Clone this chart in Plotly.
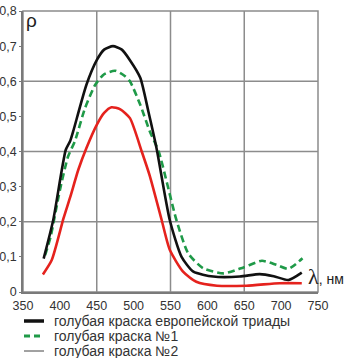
import plotly.graph_objects as go

# Spectral reflectance curves (wavelength in nm, reflectance rho)
euro_wl = [378, 391, 408, 414, 418, 436, 450, 460, 472, 484, 495, 509, 520, 531, 549, 565, 581, 608, 644, 671, 690, 710, 728]
euro_rho = [0.095, 0.205, 0.405, 0.43, 0.457, 0.59, 0.66, 0.69, 0.70, 0.69, 0.66, 0.61, 0.514, 0.41, 0.205, 0.10, 0.058, 0.044, 0.044, 0.051, 0.045, 0.034, 0.055]

paint1_wl = [380, 387.5, 400, 411, 420.5, 434, 448, 460, 475, 488, 495, 509, 522, 534, 558, 574, 594, 622, 649, 674, 694, 710, 729]
paint1_rho = [0.105, 0.158, 0.29, 0.385, 0.43, 0.523, 0.59, 0.62, 0.63, 0.615, 0.60, 0.533, 0.457, 0.40, 0.205, 0.11, 0.068, 0.053, 0.07, 0.089, 0.077, 0.066, 0.096]

paint2_wl = [377, 389, 405, 414, 425, 436, 450, 460, 470, 482, 495, 511, 522, 538, 549, 567, 585, 613, 653, 698, 728]
paint2_rho = [0.05, 0.091, 0.21, 0.27, 0.348, 0.41, 0.476, 0.51, 0.526, 0.52, 0.495, 0.40, 0.33, 0.205, 0.12, 0.058, 0.029, 0.018, 0.018, 0.025, 0.025]

series_names = ["голубая краска европейской триады", "голубая краска №1", "голубая краска №2"]

x_ticks = [350, 400, 450, 500, 550, 600, 650, 700, 750]
y_ticks = [0, 0.1, 0.2, 0.3, 0.4, 0.5, 0.6, 0.7, 0.8]
y_tick_text = ["0", "0,1", "0,2", "0,3", "0,4", "0,5", "0,6", "0,7", "0,8"]

# grid is coarser than the labels
x_grid = [450, 550, 650]
y_grid = [0.2, 0.4, 0.6]

FONT = "Liberation Sans, Arial, sans-serif"
GRID = "#8c8c8c"
BLACK = "#111111"
GREEN = "#1f9a48"
RED = "#e5221d"

fig = go.Figure()

fig.add_trace(go.Scatter(x=paint2_wl, y=paint2_rho, mode="lines", name=series_names[2],
                         line=dict(color=RED, width=2.6, shape="spline", smoothing=0.6), showlegend=False))
fig.add_trace(go.Scatter(x=paint1_wl, y=paint1_rho, mode="lines", name=series_names[1],
                         line=dict(color=GREEN, width=2.6, dash="7px,4px", shape="spline", smoothing=0.6), showlegend=False))
fig.add_trace(go.Scatter(x=euro_wl, y=euro_rho, mode="lines", name=series_names[0],
                         line=dict(color=BLACK, width=2.6, shape="spline", smoothing=0.6), showlegend=False))

fig.update_layout(
    width=350, height=358,
    margin=dict(l=23, r=32, t=11, b=66),
    paper_bgcolor="white", plot_bgcolor="white",
    font=dict(family=FONT, size=12, color="#333333"),
    xaxis=dict(range=[350, 750], tickvals=x_ticks, showgrid=False, zeroline=False, automargin=False,
               showline=True, linecolor="#7a7a7a", linewidth=1.5, ticks="", ticklabelstandoff=1,
               tickfont=dict(size=12.5, color="#333333")),
    yaxis=dict(range=[0, 0.8], tickvals=y_ticks, ticktext=y_tick_text, showgrid=False, zeroline=False,
               automargin=False, showline=True, linecolor="#7a7a7a", linewidth=1.5, ticks="outside",
               ticklen=2, tickcolor="#7a7a7a", tickfont=dict(size=12.5, color="#333333")),
    showlegend=False,
)

# grid lines and frame, kept under the curves
for gx in x_grid:
    fig.add_shape(type="line", xref="x", yref="paper", x0=gx, x1=gx, y0=0, y1=1,
                  line=dict(color=GRID, width=1.5), layer="between")
for gy in y_grid:
    fig.add_shape(type="line", xref="paper", yref="y", x0=0, x1=1, y0=gy, y1=gy,
                  line=dict(color=GRID, width=1.5), layer="between")
fig.add_shape(type="rect", xref="paper", yref="paper", x0=0, x1=1, y0=0, y1=1,
              line=dict(color=GRID, width=1.5), layer="between")

# axis titles
fig.add_annotation(text="ρ", xref="paper", yref="paper", x=0.005, y=1.0, xanchor="left", yanchor="top",
                   showarrow=False, font=dict(family=FONT, size=19, color="#222222"), yshift=3)
fig.add_annotation(text="<span style='font-family:Liberation Serif, Times New Roman, serif;font-size:22px'>λ</span>, нм",
                   xref="paper", yref="paper", x=1.0, y=0.0, xanchor="left", yanchor="bottom",
                   showarrow=False, font=dict(family=FONT, size=14, color="#222222"), xshift=-12, yshift=1)

# legend drawn beneath the plot
legend_styles = [dict(color=BLACK, width=3.5, dash="solid"),
                 dict(color=GREEN, width=3, dash="6px,4px"),
                 dict(color="#444444", width=1, dash="solid")]
row_px = [321, 336, 351]
for name, style, py in zip(series_names, legend_styles, row_px):
    yp = (292 - py) / 281
    fig.add_shape(type="line", xref="paper", yref="paper", x0=(24 - 23) / 295, x1=(44 - 23) / 295,
                  y0=yp, y1=yp, line=style)
    fig.add_annotation(text=name, xref="paper", yref="paper", x=(53 - 23) / 295, y=yp,
                       xanchor="left", yanchor="middle", showarrow=False, borderpad=0,
                       font=dict(family=FONT, size=14, color="#333333"))

fig.write_html("out.html")
